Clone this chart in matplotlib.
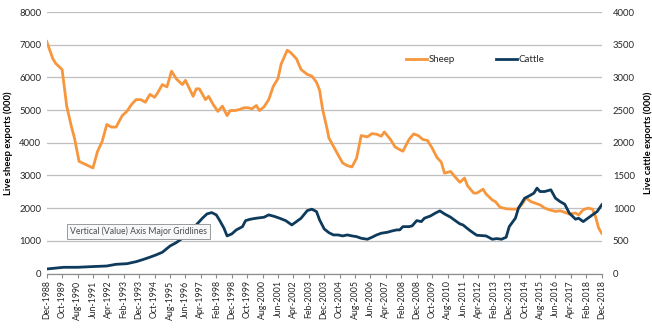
import matplotlib
matplotlib.use('Agg')
import matplotlib.pyplot as plt

plt.rcParams['font.family'] = ['Lato', 'DejaVu Sans']

# month offsets from Dec-1988, values in thousands
sheep_month = [0, 4, 6, 10, 13, 16, 18, 21, 30, 33, 36, 39, 42, 45, 49, 52, 55, 58, 61, 64,
               67, 70, 72, 75, 78, 81, 84, 88, 90, 95, 97, 99, 103, 105, 108, 111, 114, 117, 119, 122,
               125, 128, 131, 133, 136, 138, 141, 144, 147, 150, 152, 156, 158, 162, 165, 169, 172, 175, 177, 179,
               182, 183, 186, 189, 192, 195, 198, 201, 204, 208, 211, 214, 217, 219, 223, 226, 229, 231, 235, 238,
               241, 244, 247, 250, 253, 256, 258, 262, 265, 268, 271, 273, 277, 279, 283, 285, 289, 291, 294, 298,
               302, 305, 308, 311, 314, 317, 320, 323, 326, 330, 333, 336, 339, 343, 345, 348, 351, 354, 356, 358,
               360]
sheep = [7100, 6570, 6420, 6240, 5120, 4500, 4150, 3430, 3230, 3740, 4040, 4560, 4480, 4480, 4830, 4960, 5170, 5320, 5320, 5240,
         5480, 5390, 5530, 5780, 5710, 6190, 5960, 5780, 5910, 5420, 5650, 5650, 5320, 5420, 5170, 4960, 5120, 4830, 4985, 4985,
         5015, 5070, 5070, 5035, 5140, 4985, 5100, 5320, 5730, 5960, 6400, 6830, 6770, 6570, 6240, 6090, 6040, 5850, 5610, 5015,
         4400, 4150, 3890, 3630, 3380, 3300, 3260, 3530, 4220, 4180, 4280, 4260, 4200, 4330, 4100, 3870, 3790, 3740, 4100, 4270,
         4220, 4100, 4070, 3840, 3560, 3400, 3070, 3120, 2950, 2790, 2920, 2680, 2460, 2460, 2580, 2430, 2250, 2200, 2030, 1980,
         1970, 1970, 2100, 2310, 2200, 2150, 2100, 2000, 1950, 1900, 1920, 1870, 1820, 1850, 1790, 1950, 2000, 1970, 1740, 1390,
         1230]

cattle_month = [0, 11, 20, 28, 39, 45, 52, 58, 62, 67, 71, 75, 80, 84, 88, 93, 97, 101, 104, 107,
                110, 112, 115, 117, 120, 123, 127, 129, 132, 136, 141, 144, 148, 151, 155, 159, 162, 165, 169, 172,
                175, 177, 180, 183, 186, 189, 192, 195, 198, 201, 204, 208, 211, 214, 217, 221, 224, 227, 229, 231,
                235, 237, 240, 243, 245, 249, 252, 255, 258, 262, 265, 268, 270, 274, 277, 279, 282, 285, 289, 292,
                295, 298, 300, 304, 306, 310, 313, 316, 318, 320, 323, 327, 330, 333, 336, 339, 343, 345, 348, 351,
                354, 357, 360]
cattle = [69, 95, 95, 104, 115, 141, 150, 181, 210, 250, 285, 325, 421, 472, 539, 641, 743, 846, 912, 932,
          897, 820, 693, 575, 605, 667, 717, 809, 830, 846, 861, 897, 871, 846, 809, 743, 794, 846, 962, 984,
          947, 820, 682, 625, 590, 590, 575, 590, 575, 564, 539, 524, 555, 590, 616, 631, 651, 667, 667, 717,
          717, 728, 809, 794, 846, 881, 923, 958, 912, 861, 809, 759, 743, 667, 616, 585, 580, 575, 524, 534,
          524, 555, 717, 846, 999, 1152, 1188, 1229, 1306, 1254, 1254, 1280, 1152, 1100, 1060, 923, 831, 846, 794, 846,
          897, 947, 1050]

tick_labels = ['Dec-1988', 'Oct-1989', 'Aug-1990', 'Jun-1991', 'Apr-1992', 'Feb-1993', 'Dec-1993',
               'Oct-1994', 'Aug-1995', 'Jun-1996', 'Apr-1997', 'Feb-1998', 'Dec-1998', 'Oct-1999',
               'Aug-2000', 'Jun-2001', 'Apr-2002', 'Feb-2003', 'Dec-2003', 'Oct-2004', 'Aug-2005',
               'Jun-2006', 'Apr-2007', 'Feb-2008', 'Dec-2008', 'Oct-2009', 'Aug-2010', 'Jun-2011',
               'Apr-2012', 'Feb-2013', 'Dec-2013', 'Oct-2014', 'Aug-2015', 'Jun-2016', 'Apr-2017',
               'Feb-2018', 'Dec-2018']

ORANGE = '#F7963C'
NAVY = '#0E3A5C'
GRID = '#BFBFBF'
TXT = '#262626'


def main():
    fig = plt.figure(figsize=(6.52, 3.31), dpi=100)
    ax = fig.add_axes([0.0716, 0.1737, 0.8513, 0.79])
    ax2 = ax.twinx()

    l1, = ax.plot(sheep_month, sheep, color=ORANGE, lw=2, label='Sheep', solid_joinstyle='round')
    l2, = ax2.plot(cattle_month, cattle, color=NAVY, lw=2, label='Cattle', solid_joinstyle='round')

    ax.set_xlim(0, 360)
    ax.set_ylim(0, 8000)
    ax2.set_ylim(0, 4000)
    ax.set_yticks(range(0, 8001, 1000))
    ax2.set_yticks(range(0, 4001, 500))
    ax.set_xticks(range(0, 361, 10))
    ax.set_xticklabels(tick_labels, rotation=90, fontsize=6.3, color=TXT)
    ax.grid(axis='y', color=GRID, lw=0.9)
    ax.set_axisbelow(True)

    for a in (ax, ax2):
        for s in ('top', 'left', 'right'):
            a.spines[s].set_visible(False)
        a.spines['bottom'].set_color('#8C8C8C')
        a.tick_params(axis='y', length=0, labelsize=6.8, labelcolor=TXT)
    ax.tick_params(axis='y', pad=4)
    ax2.tick_params(axis='y', pad=8)
    ax.tick_params(axis='x', length=3, color='#8C8C8C', pad=2)

    ax.set_ylabel('Live sheep exports (000)', fontsize=6.8, fontweight='bold', color='black', labelpad=4)
    ax2.set_ylabel('Live cattle exports (000)', fontsize=6.8, fontweight='bold', color='black',
                   rotation=90, labelpad=6)

    fig.legend(handles=[l1, l2], loc='center left', bbox_to_anchor=(406 / 652, 1 - 60 / 331),
               ncol=2, frameon=False, fontsize=7, handlelength=2.2, handletextpad=0.15,
               columnspacing=4.2, borderpad=0, borderaxespad=0, labelcolor=TXT)

    fig.text(70 / 652, 1 - 231.5 / 331, 'Vertical (Value) Axis Major Gridlines', fontsize=6.2,
             color='#4D4D4D', va='center', ha='left',
             bbox=dict(boxstyle='square,pad=0.35', fc='#F7F8FA', ec='#9A9A9A', lw=0.7))

    fig.savefig('out.png', dpi=100)


if __name__ == '__main__':
    main()
